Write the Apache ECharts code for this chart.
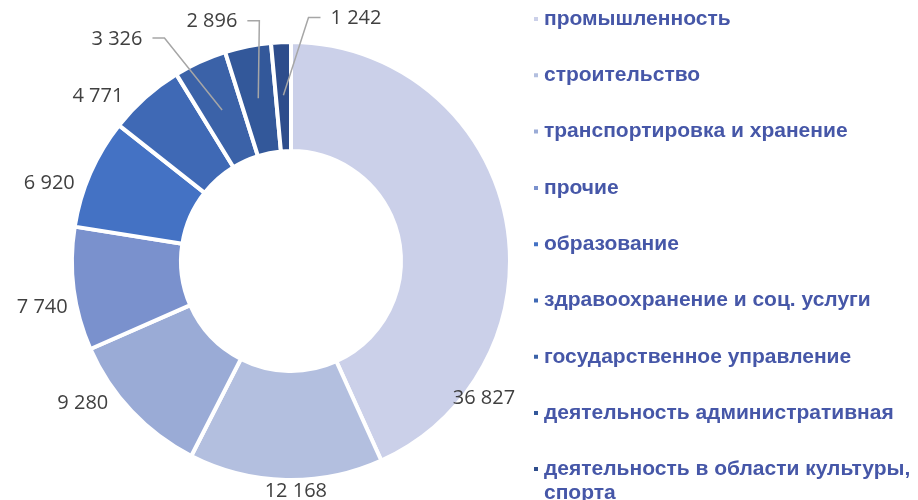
<!DOCTYPE html>
<html>
<head>
<meta charset="utf-8">
<script src="https://cdn.jsdelivr.net/npm/echarts@6/dist/echarts.min.js"></script>
<style>
  html, body { margin: 0; padding: 0; background: #fff; }
  #chart { width: 918px; height: 500px; }
</style>
</head>
<body>
<div id="chart"></div>
<script>
// данные
const categories = [
  "промышленность",
  "строительство",
  "транспортировка и хранение",
  "прочие",
  "образование",
  "здравоохранение и соц. услуги",
  "государственное управление",
  "деятельность административная",
  "деятельность в области культуры, спорта",
];
const values = [36827, 12168, 9280, 7740, 6920, 4771, 3326, 2896, 1242];

// оформление
const colors = ["#CBD0E9", "#B3BFDF", "#9AABD6", "#7A91CD", "#4472C4", "#3F69B5", "#3B62A8", "#33589A", "#2E4D8C"];
const CX = 291, CY = 261;
const RADIUS = [110, 219];
// положение подписей: [угол по часовой от 12 ч, расстояние от центра]
const labelPolar = [[125.5, 237], [178.8, 230], [235.7, 252], [259.5, 253], [287.9, 254], [310.5, 254], [321.9, 282], [341.7, 252], [15.0, 251]];
const withLeader = [6, 7, 8];

const total = values.reduce((a, b) => a + b, 0);
const midAngle = (i) => {
  const before = values.slice(0, i).reduce((a, b) => a + b, 0);
  return ((before + values[i] / 2) / total) * 360;
};
const polar = (deg, r) => {
  const a = (deg * Math.PI) / 180;
  return [CX + r * Math.sin(a), CY - r * Math.cos(a)];
};
const fmt = (v) => String(v).replace(/\B(?=(\d{3})+(?!\d))/g, " ");

const legendText = {
  fontFamily: "Liberation Sans, Arial, sans-serif",
  fontWeight: "bold",
  fontSize: 21,
  lineHeight: 24,
  color: "#4657A8",
};

const chart = echarts.init(document.getElementById("chart"));
chart.setOption({
  animation: false,
  color: colors,
  legend: [
    {
      orient: "vertical",
      left: 532,
      top: 7,
      padding: 0,
      icon: "rect",
      itemWidth: 6,
      itemHeight: 6,
      itemGap: 32.3,
      data: categories.slice(0, 8),
      textStyle: legendText,
    },
    {
      orient: "vertical",
      left: 532,
      top: 433,
      padding: 0,
      icon: "rect",
      itemWidth: 6,
      itemHeight: 6,
      data: categories.slice(8),
      // пустая строка сверху, чтобы маркер стоял у первой строки
      formatter: (name) => " \n" + name.replace(", ", ",\n"),
      textStyle: legendText,
    },
  ],
  series: [
    // кольцо
    {
      type: "pie",
      center: [CX, CY],
      radius: RADIUS,
      startAngle: 90,
      clockwise: true,
      itemStyle: { borderColor: "#fff", borderWidth: 4 },
      emphasis: { disabled: true },
      label: { show: false },
      labelLine: { show: false },
      data: categories.map((name, i) => ({ name, value: values[i] })),
    },
    // прозрачная копия сверху: подписи и выноски поверх сегментов
    {
      type: "pie",
      z: 3,
      silent: true,
      center: [CX, CY],
      radius: RADIUS,
      startAngle: 90,
      clockwise: true,
      itemStyle: { color: "rgba(0,0,0,0)", borderWidth: 0 },
      emphasis: { disabled: true },
      data: categories.map((name, i) => ({
        name,
        value: values[i],
        labelLine: { show: withLeader.includes(i) },
      })),
      label: {
        show: true,
        position: "outside",
        overflow: "none",
        formatter: (p) => fmt(p.value),
        fontFamily: "Open Sans, sans-serif",
        fontSize: 20,
        color: "#404040",
      },
      labelLine: {
        show: false,
        length: 0,
        length2: 0,
        lineStyle: { color: "#A6A6A6", width: 1.5 },
      },
      labelLayout: (params) => {
        const i = params.dataIndex;
        const [lx, ly] = polar(labelPolar[i][0], labelPolar[i][1]);
        const res = { x: lx, y: ly, align: "center", verticalAlign: "middle" };
        if (withLeader.includes(i)) {
          const start = polar(midAngle(i), 166);
          const w = params.labelRect.width;
          const left = lx < start[0];
          const end = left ? lx + w / 2 + 10 : lx - w / 2 - 10;
          const elbow = left ? end + 12 : end - 12;
          res.labelLinePoints = [start, [elbow, ly - 1], [end, ly - 1]];
        }
        return res;
      },
    },
  ],
});
</script>
</body>
</html>
